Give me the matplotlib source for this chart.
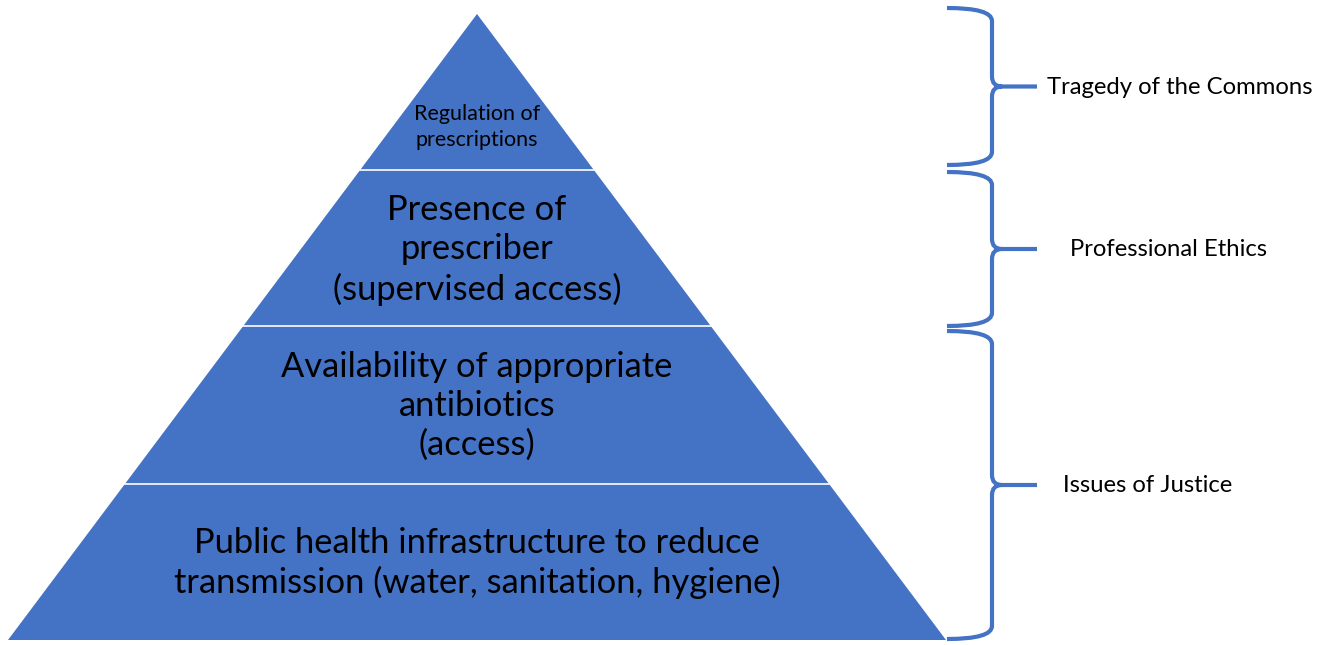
import matplotlib
matplotlib.use("Agg")
import matplotlib.pyplot as plt
from matplotlib.patches import Polygon, PathPatch
from matplotlib.path import Path

# Tiers of the pyramid, from top to bottom
tier_labels = [
    "Regulation of\nprescriptions",
    "Presence of\nprescriber\n(supervised access)",
    "Availability of appropriate\nantibiotics\n(access)",
    "Public health infrastructure to reduce\ntransmission (water, sanitation, hygiene)",
]
tier_font = [15.5, 24.8, 24.8, 24.8]
tier_spacing = [1.38, 1.27, 1.27, 1.27]

# Braces on the right: label for each group of tiers
brace_labels = ["Tragedy of the Commons", "Professional Ethics", "Issues of Justice"]

# -------------------------
# layout (pixel coordinates)
# -------------------------
W, H = 1335, 645
apex = (477, 14)
base_y = 640
base_left, base_right = 8, 946
tier_bounds = [14, 170, 326, 484, 640]
blue = "#4472C4"

fig = plt.figure(figsize=(W / 100, H / 100), dpi=100)
ax = fig.add_axes([0, 0, 1, 1])
ax.set_xlim(0, W)
ax.set_ylim(H, 0)
ax.axis("off")


def half_width(y):
    return (y - apex[1]) / (base_y - apex[1]) * (base_right - base_left) / 2


# pyramid
tri = Polygon([apex, (base_left, base_y), (base_right, base_y)], closed=True,
              facecolor=blue, edgecolor="none")
ax.add_patch(tri)

# white separators
for y in tier_bounds[1:-1]:
    hw = half_width(y)
    ax.plot([apex[0] - hw, apex[0] + hw], [y, y], color="white", lw=1.2)

# tier text
tier_text_y = [127, 250, 406, 563]
for lab, fs, ls, ty in zip(tier_labels, tier_font, tier_spacing, tier_text_y):
    ax.text(apex[0], ty, lab, ha="center", va="center", fontsize=fs,
            family="Lato", color="black", linespacing=ls)

# braces
xa, xv, xt, r = 947, 992, 1037, 10
brace_edges = [(8, 165), (172, 326), (331, 639)]
label_x = [1047, 1070, 1063]
for (y0, y1), lab, lx in zip(brace_edges, brace_labels, label_x):
    ym = (y0 + y1) / 2
    verts = [(xa, y0), (xv, y0), (xv, y0 + r * 1.3), (xv, ym - r),
             (xv, ym), (xv + r, ym), (xt, ym),
             (xv + r, ym), (xv, ym), (xv, ym + r), (xv, y1 - r * 1.3),
             (xv, y1), (xa, y1)]
    codes = [Path.MOVETO, Path.CURVE3, Path.CURVE3, Path.LINETO,
             Path.CURVE3, Path.CURVE3, Path.LINETO,
             Path.MOVETO, Path.CURVE3, Path.CURVE3, Path.LINETO,
             Path.CURVE3, Path.CURVE3]
    ax.add_patch(PathPatch(Path(verts, codes), facecolor="none",
                           edgecolor=blue, lw=3, capstyle="butt"))
    ax.text(lx, ym + 1, lab, ha="left", va="center", fontsize=17.2,
            family="Lato", color="black")

fig.savefig("out.png", dpi=100)
